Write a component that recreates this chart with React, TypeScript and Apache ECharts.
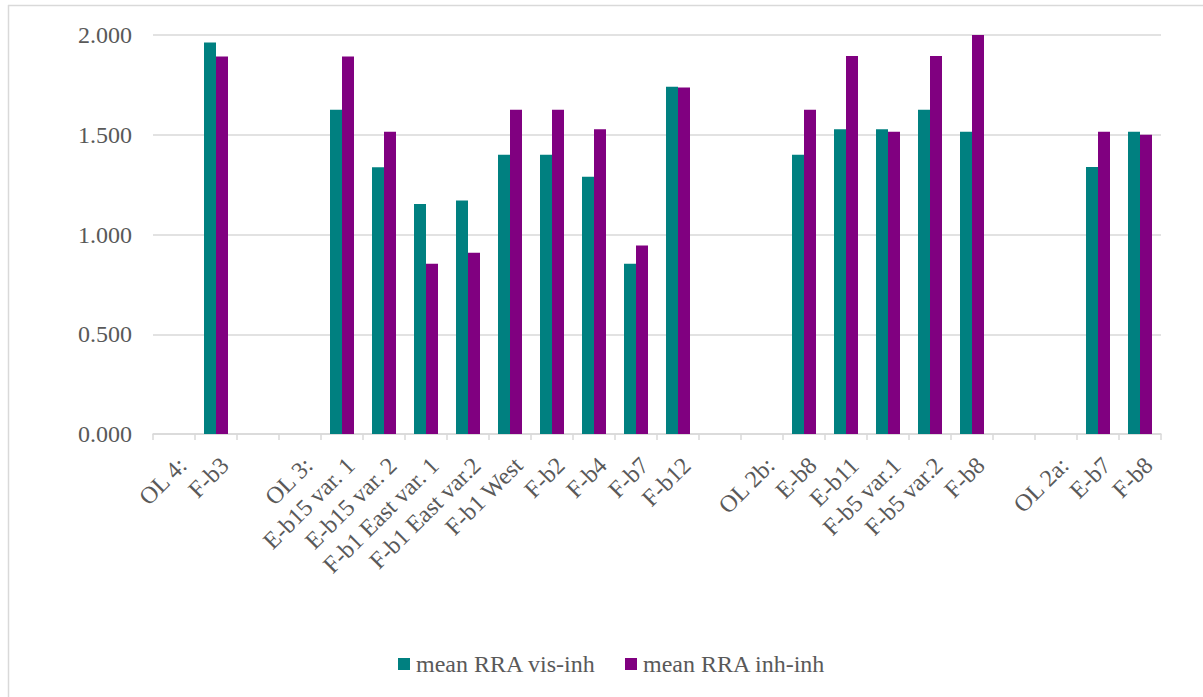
import React, { useEffect, useRef } from "react";
import * as echarts from "echarts";

const categories = [
  "OL 4:", "F-b3", "", "OL 3:", "E-b15 var. 1", "E-b15 var. 2", "F-b1 East var. 1", "F-b1 East var.2",
  "F-b1 West", "F-b2", "F-b4", "F-b7", "F-b12", "", "OL 2b:", "E-b8", "E-b11", "F-b5 var.1",
  "F-b5 var.2", "F-b8", "", "OL 2a:", "E-b7", "F-b8",
];

const visInh = [
  null, 1.962, null, null, 1.625, 1.337, 1.153, 1.17, 1.4, 1.4, 1.29, 0.853, 1.74, null, null,
  1.4, 1.528, 1.528, 1.625, 1.515, null, null, 1.338, 1.515,
];

const inhInh = [
  null, 1.892, null, null, 1.892, 1.515, 0.853, 0.908, 1.625, 1.625, 1.528, 0.945, 1.737, null, null,
  1.625, 1.895, 1.515, 1.895, 2.0, null, null, 1.515, 1.5,
];

const seriesNames = ["mean RRA vis-inh", "mean RRA inh-inh"];
const yTicks = { min: 0, max: 2, interval: 0.5 };

const FONT = "'Liberation Serif', 'Times New Roman', serif";
const TEXT = "#595959";
const GRID = "#d9d9d9";

export default function App() {
  const ref = useRef<HTMLDivElement>(null);
  useEffect(() => {
    if (!ref.current) return;
    const chart = echarts.init(ref.current, undefined, { renderer: "svg" });
    chart.setOption({
      animation: false,
      backgroundColor: "#ffffff",
      textStyle: { fontFamily: FONT },
      graphic: [
        { type: "line", shape: { x1: 8, y1: 5.5, x2: 1203, y2: 5.5 }, style: { stroke: GRID, lineWidth: 1.5 } },
        { type: "line", shape: { x1: 8.5, y1: 5, x2: 8.5, y2: 697 }, style: { stroke: GRID, lineWidth: 1.5 } },
      ],
      grid: { left: 153, right: 42, top: 35, bottom: 263, containLabel: false },
      legend: {
        data: seriesNames,
        left: 398,
        top: 652,
        padding: 0,
        itemWidth: 12,
        itemHeight: 12,
        itemGap: 29,
        icon: "rect",
        textStyle: { fontFamily: FONT, fontSize: 24, color: TEXT, padding: [0, 0, 0, 1] },
      },
      xAxis: {
        type: "category",
        data: categories,
        axisLine: { lineStyle: { color: GRID, width: 1.5 } },
        axisTick: { show: true, length: 6, lineStyle: { color: GRID, width: 1.5 } },
        axisLabel: {
          interval: 0,
          rotate: 45,
          margin: 19,
          verticalAlign: "top",
          fontFamily: FONT,
          fontSize: 24,
          color: TEXT,
        },
      },
      yAxis: {
        type: "value",
        min: yTicks.min,
        max: yTicks.max,
        interval: yTicks.interval,
        axisLine: { show: false },
        axisTick: { show: false },
        splitLine: { lineStyle: { color: GRID, width: 1.5 } },
        axisLabel: {
          margin: 21,
          fontFamily: FONT,
          fontSize: 24,
          color: TEXT,
          formatter: (v: number) => v.toFixed(3),
        },
      },
      series: [
        {
          name: seriesNames[0],
          type: "bar",
          data: visInh,
          barWidth: 12,
          barGap: "0%",
          itemStyle: { color: "#008080" },
        },
        {
          name: seriesNames[1],
          type: "bar",
          data: inhInh,
          barWidth: 12,
          barGap: "0%",
          itemStyle: { color: "#800080" },
        },
      ],
    });
    return () => chart.dispose();
  }, []);
  return (
    <div
      ref={ref}
      style={{ position: "fixed", left: 0, top: 0, width: 1203, height: 697, background: "#fff" }}
    />
  );
}
